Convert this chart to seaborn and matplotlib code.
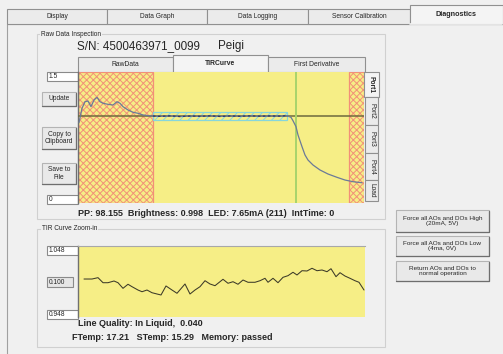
import matplotlib
matplotlib.use("Agg")
import matplotlib.pyplot as plt
from matplotlib.patches import Rectangle
import seaborn as sns

# ---- data ----
# TIR curve (upper plot), sample index vs normalised intensity
tir_x = [1, 4, 7, 10, 13, 16, 19, 22, 25, 30, 35, 39, 42, 45, 50, 55, 60, 65, 70, 75,
         82, 92, 102, 112, 122, 132, 142, 152, 162, 172, 182, 192, 202,
         209, 213, 215, 218, 220, 224, 227, 230, 235, 242, 250, 259, 267, 275, 284]
tir_y = [0.92, 1.084, 1.160, 1.168, 1.103, 1.179, 1.210, 1.160, 1.142, 1.130, 1.122,
         1.160, 1.142, 1.103, 1.065, 1.039, 1.027, 1.008, 1.000, 0.996,
         0.992, 0.998, 0.990, 0.996, 0.993, 0.998, 0.991, 0.997, 0.993, 0.998, 0.994,
         0.997, 0.995,
         1.000, 0.981, 0.942, 0.874, 0.779, 0.645, 0.550, 0.492, 0.435, 0.378, 0.332,
         0.294, 0.263, 0.244, 0.232]
tir_level = 1.0
tir_ymax = 1.5
tir_xmax = 286
liquid_window = (0, 75)
air_window = (271, 286)
fit_window = (75, 209, 0.950, 1.042)
edge_mark = 218

# TIR curve zoom-in (lower plot)
zoom_x = [6, 14, 20, 25, 30, 36, 40, 45, 50, 54, 60, 64, 69, 74, 79, 83, 88, 94, 99,
          107, 112, 117, 122, 127, 132, 137, 145, 150, 155, 160, 165, 170, 177, 182,
          187, 190, 195, 200, 205, 210, 215, 219, 224, 229, 234, 239, 244, 249, 253,
          258, 262, 267, 272, 277, 281, 286]
zoom_y = [1.0015, 1.0015, 1.0034, 0.9963, 0.9963, 0.9987, 0.9963, 0.9884, 0.9941,
          0.9907, 0.9860, 0.9836, 0.9860, 0.9822, 0.9804, 0.9790, 0.9917, 0.9860,
          0.9814, 0.9945, 0.9804, 0.9860, 0.9907, 0.9991, 0.9945, 0.9921, 1.0011,
          0.9955, 0.9977, 0.9941, 1.0001, 0.9969, 0.9969, 0.9991, 1.0025, 0.9969,
          1.0025, 0.9963, 1.0039, 1.0062, 1.0110, 1.0072, 1.0132, 1.0128, 1.0166,
          1.0132, 1.0142, 1.0118, 1.0160, 1.0048, 1.0104, 1.0057, 1.0025, 0.9991,
          0.9969, 0.9860]
zoom_lo, zoom_hi = 0.948, 1.048

main_tabs = ["Display", "Data Graph", "Data Logging", "Sensor Calibration", "Diagnostics"]
curve_tabs = ["RawData", "TIRCurve", "First Derivative"]
port_tabs = ["Port1", "Port2", "Port3", "Port4", "Load"]
right_buttons = ["Force all AOs and DOs High\n(20mA, 5V)",
                 "Force all AOs and DOs Low\n(4ma, 0V)",
                 "Return AOs and DOs to\nnormal operation"]
sn_text = "S/N: 4500463971_0099"
name_text = "Peigi"
status_text = "PP: 98.155  Brightness: 0.998  LED: 7.65mA (211)  IntTime: 0"
quality_text = "Line Quality: In Liquid,  0.040"
temp_text = "FTemp: 17.21   STemp: 15.29   Memory: passed"

# ---- style ----
sns.set_style("white")
plt.rcParams["font.family"] = ["Liberation Sans", "DejaVu Sans"]
plt.rcParams["hatch.linewidth"] = 0.7

W, H = 503, 354
bg = "#f0f0f0"
yellow = "#f6ee86"
fig = plt.figure(figsize=(W / 100, H / 100), dpi=100, facecolor=bg)

# a pixel-coordinate canvas for the window chrome
gui = fig.add_axes([0, 0, 1, 1])
gui.set_xlim(0, W)
gui.set_ylim(H, 0)
gui.axis("off")


def box(x, y, w, h, fc="none", ec="#a0a0a0", lw=0.8, z=1):
    gui.add_patch(Rectangle((x, y), w, h, facecolor=fc, edgecolor=ec, lw=lw, zorder=z))


def button(x, y, w, h, label, fs=4.8):
    box(x, y, w, h, fc="#e9e9e9", ec="#b4b4b4", z=2)
    gui.plot([x + 0.5, x + w, x + w], [y + h, y + h, y + 0.5], color="#6e6e6e", lw=0.9, zorder=3)
    gui.text(x + w / 2, y + h / 2, label, ha="center", va="center", fontsize=fs,
             linespacing=1.1, zorder=4)


def textbox(x, y, w, h, label, fc="white"):
    box(x, y, w, h, fc=fc, ec="#8a8a8a", z=2)
    gui.text(x + 1.5, y + h / 2 + 0.3, label, ha="left", va="center", fontsize=4.8, zorder=4)


# main tab strip
tab_x = [7, 107, 207, 308, 410]
tab_w = [100, 100, 101, 102, 93]
for x, w, lab in zip(tab_x, tab_w, main_tabs):
    sel = lab == "Diagnostics"
    y0 = 5 if sel else 9
    box(x, y0, w, 23.5 - y0, fc="#f4f4f4" if sel else "#ebebeb", ec="#909090", z=2)
    gui.text(x + w / 2, y0 + (23.5 - y0) / 2 + 0.5, lab, ha="center", va="center",
             fontsize=5.2 if sel else 4.8, fontweight="bold" if sel else "normal", zorder=4)

# panel border
box(7, 23.5, 500, 340, fc="none", ec="#a0a0a0", z=1)
gui.plot([410.5, 502.5], [23.5, 23.5], color="#f4f4f4", lw=1.2, zorder=3)

# group frames
box(37, 34, 348, 185, ec="#d0d0d0")
box(37, 229, 348, 118, ec="#d0d0d0")
gui.text(41, 34, "Raw Data Inspection", fontsize=4.7, va="center", ha="left", zorder=3,
         bbox=dict(fc=bg, ec="none", pad=0.4))
gui.text(42, 229, "TIR Curve Zoom-in", fontsize=4.7, va="center", ha="left", zorder=3,
         bbox=dict(fc=bg, ec="none", pad=0.4))

gui.text(77, 46.5, sn_text, fontsize=8.4, va="center", ha="left")
gui.text(218, 46.5, name_text, fontsize=8.4, va="center", ha="left")

# curve tabs
for x, w, lab in zip([78, 173, 268], [95, 95, 97], curve_tabs):
    sel = lab == "TIRCurve"
    y0 = 55 if sel else 57
    box(x, y0, w, 72 - y0, fc="#f4f4f4" if sel else "#ebebeb", ec="#909090", z=2)
    gui.text(x + w / 2, y0 + (72 - y0) / 2, lab, ha="center", va="center", fontsize=4.9,
             fontweight="bold" if sel else "normal", zorder=4)

# port tabs on the right edge of the plot
port_y = [72, 97, 125, 153, 180, 201]
for i, lab in enumerate(port_tabs):
    sel = i == 0
    x0 = 364 if sel else 365
    box(x0, port_y[i], 15 if sel else 13, port_y[i + 1] - port_y[i],
        fc="#f4f4f4" if sel else "#ebebeb", ec="#909090", z=2)
    gui.text(x0 + 7, (port_y[i] + port_y[i + 1]) / 2, lab, rotation=270, ha="center",
             va="center", fontsize=4.8, fontweight="bold" if sel else "normal", zorder=4)

# controls left of the plots
textbox(47, 72, 31, 9, "1.5")
textbox(47, 195, 31, 9, "0")
button(42, 92, 34, 14, "Update")
button(42, 127, 34, 22, "Copy to\nClipboard")
button(42, 163, 34, 21, "Save to\nFile")
textbox(47, 246, 31, 9, "1.048")
textbox(47, 277, 26, 10, "0.100", fc="#e6e6e6")
textbox(47, 310, 31, 9, "0.948")

# right-hand buttons
for y, h, lab in zip([210, 236, 261], [22, 20, 20], right_buttons):
    button(396, y, 93, h, lab, fs=4.6)

gui.text(78, 213.5, status_text, fontsize=6.5, fontweight="bold", va="center", ha="left")
gui.text(78, 323.5, quality_text, fontsize=6.5, fontweight="bold", va="center", ha="left")
gui.text(72, 337.5, temp_text, fontsize=6.5, fontweight="bold", va="center", ha="left")


def px_axes(left, top, right, bottom):
    return fig.add_axes([left / W, 1 - bottom / H, (right - left) / W, (bottom - top) / H])


# ---- upper plot: TIR curve ----
ax = px_axes(78, 72, 364, 203)
ax.set_facecolor(yellow)
ax.axvspan(*liquid_window, facecolor="none", edgecolor="#f29078", hatch="xxxxx", lw=0.9, zorder=1)
ax.axvspan(*air_window, facecolor="none", edgecolor="#f29078", hatch="xxxxx", lw=0.9, zorder=1)
fx0, fx1, fy0, fy1 = fit_window
ax.add_patch(Rectangle((fx0, fy0), fx1 - fx0, fy1 - fy0, facecolor="none",
                       edgecolor="#86d6dc", hatch="////", lw=0.9, zorder=2))
ax.axhline(tir_level, color="#6e6a3e", lw=1.1, zorder=3)
ax.axvline(edge_mark, color="#a8d46c", lw=1.4, zorder=3)
sns.lineplot(x=tir_x, y=tir_y, color="#6b7a98", lw=0.9, ax=ax, zorder=4)
flat = [(x, y) for x, y in zip(tir_x, tir_y) if fx0 <= x <= fx1]
sns.lineplot(x=[p[0] for p in flat], y=[p[1] for p in flat], color="#2c3a6e",
             lw=0.9, ls=(0, (2, 2)), ax=ax, zorder=5)
ax.set_xlim(0, tir_xmax)
ax.set_ylim(0, tir_ymax)
ax.set_xticks([])
ax.set_yticks([])
ax.set_xlabel("")
ax.set_ylabel("")
for s in ["top", "right", "bottom"]:
    ax.spines[s].set_visible(False)
ax.spines["left"].set_color("#707070")
ax.spines["left"].set_linewidth(1.0)

# ---- lower plot: zoom-in ----
az = px_axes(78, 246, 365, 317)
az.set_facecolor(yellow)
sns.lineplot(x=zoom_x, y=zoom_y, color="#3c3a28", lw=0.75, ax=az)
az.set_xlim(0, 287)
az.set_ylim(zoom_lo, zoom_hi)
az.set_xticks([])
az.set_yticks([])
az.set_xlabel("")
az.set_ylabel("")
for s in ["right", "bottom"]:
    az.spines[s].set_visible(False)
az.spines["left"].set_color("#707070")
az.spines["top"].set_color("#a8a8a8")
az.spines["left"].set_linewidth(1.0)
az.spines["top"].set_linewidth(0.8)

fig.savefig("out.png", dpi=100, facecolor=bg)
